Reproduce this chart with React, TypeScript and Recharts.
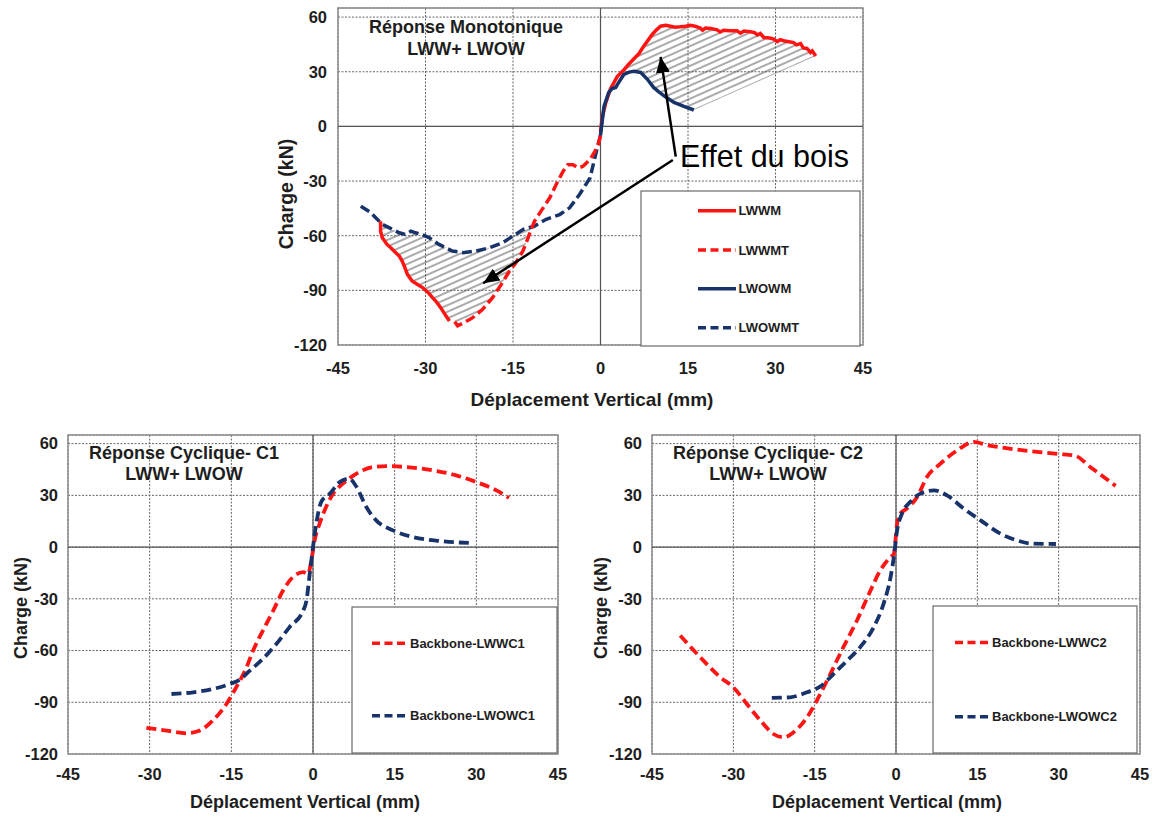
import React from "react";
import {
  Area,
  CartesianGrid,
  ComposedChart,
  Line,
  ReferenceArea,
  ReferenceLine,
  XAxis,
  YAxis,
} from "recharts";

type Pt = [number, number];

const X_TICKS = [-45, -30, -15, 0, 15, 30, 45];
const Y_TICKS = [-120, -90, -60, -30, 0, 30, 60];

// Réponse monotonique : déplacement (mm), charge (kN)
const LWWM: Pt[] = [
  [0, -3], [0.3, 5], [0.9, 13], [1.7, 20.5], [2.3, 24], [2.9, 27.5], [4, 31], [4.8, 34],
  [5.7, 37], [6.6, 40], [7.4, 44], [8.2, 47.5], [8.9, 50.6], [9.6, 53], [10.3, 55], [11.2, 55.5],
  [12, 55], [12.8, 54.5], [13.7, 54.7], [14.6, 55], [15.4, 55.5], [16.2, 55], [17.1, 54],
  [17.5, 52.8], [18, 54], [18.9, 53.7], [20, 53], [20.5, 51.8], [21.1, 52.8], [22.2, 52.5],
  [23.4, 52.5], [24, 51.2], [24.6, 52.4], [25.7, 52], [26.4, 51.5], [26.9, 50.2], [27.4, 51],
  [28, 48.8], [29, 48.5], [29.7, 47.9], [30.3, 46.5], [30.8, 47.6], [31.4, 47], [32.3, 46.5],
  [33.1, 46], [33.6, 44.8], [34.3, 45.5], [34.8, 43], [35.4, 42.8], [36, 40.6], [36.3, 41.5],
  [36.9, 38.7],
];
// trait plein rouge après le pic négatif
const LWWM_TAIL: Pt[] = [
  [-25.9, -106.8], [-26.5, -104], [-27.4, -99.5], [-28.2, -96], [-28.8, -94], [-29.6, -91],
  [-30.5, -88.5], [-31.5, -86.5], [-32.3, -84.9], [-33.1, -81.2], [-33.6, -77], [-34, -73.9],
  [-34.5, -71.2], [-35.4, -68.4], [-36, -66.5], [-36.6, -64.8], [-37.4, -61.1], [-37.7, -57.5],
  [-37.7, -52],
];
const LWWMT: Pt[] = [
  [0, -5], [-0.4, -10], [-1, -14], [-1.8, -18.2], [-3, -21.9], [-3.8, -22.8], [-4.7, -21],
  [-5.6, -21], [-6.4, -24.6], [-7.6, -31.9], [-8.7, -39.2], [-10.2, -46.5], [-11.3, -52],
  [-11.9, -56.6], [-12.4, -61.1], [-13.3, -68.4], [-14.5, -74.8], [-15.6, -79.4], [-17, -86.7],
  [-18.5, -94], [-20.2, -100.4], [-21.9, -105], [-23.4, -107.7], [-24.5, -109.5], [-25.1, -106.8],
];
const LWOWM: Pt[] = [
  [0, -5], [0.6, 11], [1.4, 18.6], [2, 20.8], [2.6, 21.4], [3.1, 24], [4, 28.5], [4.9, 29.8],
  [5.7, 30.2], [6.9, 29.6], [8, 26], [9.1, 21.4], [10, 19], [10.9, 16.8], [12.6, 13.2],
  [14.3, 11], [16, 9],
];
const LWOWMT: Pt[] = [
  [-41.1, -43.8], [-39.5, -47], [-37.4, -53.8], [-36, -56], [-34.5, -58.4], [-33.5, -59.3],
  [-32.5, -57.5], [-31.7, -58.4], [-30.5, -59.5], [-29.4, -61], [-27.7, -64.8], [-25.4, -68.4],
  [-23.6, -69.3], [-21.3, -68.4], [-19, -66.6], [-16.8, -63.9], [-15, -60.2], [-13.3, -56.6],
  [-11.3, -54.7], [-9.3, -51], [-7, -48.4], [-5.3, -44.7], [-3.6, -37.4], [-1.8, -28.3],
  [-0.7, -13.7], [0, -5],
];

// Réponse cyclique C1
const LWWC1: Pt[] = [
  [-30.6, -104.9], [-26.9, -106.4], [-23.3, -108], [-20.8, -106.4], [-18.4, -100.6],
  [-15.9, -91], [-14.1, -81.3], [-12.2, -69.7], [-11, -60], [-9.2, -48.4], [-7.3, -36.8],
  [-5.5, -25.2], [-3.7, -17.4], [-1.8, -14.5], [-0.9, -15.5], [-0.3, -7.7], [0.3, 3.9],
  [1.2, 13.5], [2.4, 23.2], [3.7, 31], [5.5, 36.8], [8, 42.6], [11, 46.4], [13.5, 47],
  [17.1, 46.4], [22, 44.5], [26.3, 41.6], [30, 37.7], [33.7, 32.9], [36, 28.5],
];
const LWOWC1: Pt[] = [
  [-26, -85.2], [-22, -84.2], [-18.4, -82.3], [-15.3, -79.4], [-13.5, -77], [-11.6, -71.6],
  [-9.2, -64.8], [-6.7, -56.1], [-4.3, -46.4], [-1.8, -36.8], [-1.2, -31], [-0.6, -15.5],
  [0, 0], [0.6, 13.5], [1.5, 26.1], [3.1, 31], [4.9, 37.7], [6.7, 39.7], [8, 34.8],
  [9.8, 23.2], [11.6, 15.5], [14.7, 9.7], [18.4, 5.8], [23.3, 3.5], [29.4, 2.3],
];

// Réponse cyclique C2
const LWWC2: Pt[] = [
  [-39.8, -51.3], [-36.1, -63.9], [-32.4, -75.5], [-30, -81.3], [-27.5, -91], [-25, -100.6],
  [-22.6, -108.4], [-20.7, -110.3], [-18.9, -107.4], [-16.4, -98.7], [-14.6, -89],
  [-12.1, -73.5], [-9.7, -58], [-7.2, -42.6], [-4.7, -25.2], [-2.9, -13.5], [-1, -5.8],
  [-0.4, -3.9], [0.2, 13.5], [0.8, 19.4], [2, 22.3], [3.9, 29], [5.7, 40.6], [8.2, 48.4],
  [11.3, 56.1], [14.3, 61], [17, 59], [20, 57.5], [25, 55.5], [30, 54], [33, 53], [36, 46],
  [40.5, 35.5],
];
const LWOWC2: Pt[] = [
  [-22.9, -87.5], [-19.5, -87.1], [-16.4, -84.2], [-13.7, -80.3], [-11.5, -73.5], [-9, -65.8],
  [-6.6, -58], [-4.1, -46.4], [-2.3, -32.9], [-1, -17.4], [-0.4, -5.8], [0.2, 9.7], [1.1, 19.4],
  [2.6, 26.1], [4.5, 31], [7, 32.9], [9.4, 30], [12.5, 22.3], [15.6, 15.5], [19.3, 7.7],
  [22.3, 3.9], [25, 2], [29.5, 1.8],
];

const RED = "#ff1414";
const NAVY = "#18336a";
const FONT = "'Liberation Sans', Arial, Helvetica, sans-serif";

const rows = (pts: Pt[]) => pts.map(([x, y]) => ({ x, y }));

function interp(pts: Pt[], x: number) {
  const s = [...pts].sort((a, b) => a[0] - b[0]);
  if (x <= s[0][0]) return s[0][1];
  for (let i = 1; i < s.length; i++) {
    if (x <= s[i][0]) {
      const [x0, y0] = s[i - 1];
      const [x1, y1] = s[i];
      if (x1 === x0) return y1;
      return y0 + ((y1 - y0) * (x - x0)) / (x1 - x0);
    }
  }
  return s[s.length - 1][1];
}

// zone hachurée entre deux courbes
function hatchBand(from: number, to: number, lo: (x: number) => number, hi: (x: number) => number, xs: number[]) {
  const grid = Array.from(new Set([from, to, ...xs.filter((x) => x > from && x < to)])).sort((a, b) => a - b);
  return grid.map((x) => {
    const a = lo(x);
    const b = hi(x);
    return { x, band: [Math.min(a, b), Math.max(a, b)] };
  });
}

const upperBand = (() => {
  const end = LWOWM[LWOWM.length - 1];
  const tip = LWWM[LWWM.length - 1];
  const lo = (x: number) =>
    x <= end[0] ? interp(LWOWM, x) : end[1] + ((tip[1] - end[1]) * (x - end[0])) / (tip[0] - end[0]);
  return hatchBand(3.4, tip[0], lo, (x) => interp(LWWM, x), [...LWWM, ...LWOWM].map((p) => p[0]));
})();

const lowerEdge = [...LWWM_TAIL, ...LWWMT];
const lowerBand = hatchBand(
  -37.4,
  -11.9,
  (x) => interp(lowerEdge, x),
  (x) => interp(LWOWMT, x),
  [...lowerEdge, ...LWOWMT].map((p) => p[0])
);

const tickStyle = { fill: "#1e1e1e", fontSize: 16.5, fontWeight: 700, fontFamily: FONT };

function frame(k: string, xMargin: number, yMargin: number, yWidth: number) {
  return [
    <CartesianGrid key={k + "g"} stroke="#666" strokeDasharray="2 1.5" />,
    <XAxis
      key={k + "x"}
      type="number"
      dataKey="x"
      domain={[-45, 45]}
      ticks={X_TICKS}
      interval={0}
      axisLine={false}
      tickLine={false}
      tickSize={0}
      tickMargin={xMargin}
      height={30}
      tick={tickStyle}
      allowDataOverflow
    />,
    <YAxis
      key={k + "y"}
      type="number"
      domain={[-120, 65]}
      ticks={Y_TICKS}
      interval={0}
      axisLine={false}
      tickLine={false}
      tickSize={0}
      tickMargin={yMargin}
      width={yWidth}
      tick={tickStyle}
      allowDataOverflow
    />,
    <ReferenceLine key={k + "h"} y={0} stroke="#555" strokeWidth={1.2} />,
    <ReferenceLine key={k + "v"} x={0} stroke="#555" strokeWidth={1.2} />,
    <ReferenceArea key={k + "b"} x1={-45} x2={45} y1={-120} y2={65} fill="none" stroke="#8d8d8d" strokeWidth={1.5} />,
  ];
}

const arrowShape = (p: any) => (
  <line x1={p.x1} y1={p.y1} x2={p.x2} y2={p.y2} stroke="#000" strokeWidth={2.5} markerEnd="url(#arrowHead)" />
);

function MonotonicChart() {
  return (
    <ComposedChart width={610} height={400} margin={{ top: 8, right: 17, bottom: 25, left: 0 }}>
      <defs>
        <pattern id="hatch" patternUnits="userSpaceOnUse" width={10} height={6} patternTransform="rotate(-24)">
          <line x1={0} y1={3} x2={10} y2={3} stroke="#555" strokeWidth={1} />
        </pattern>
        <marker id="arrowHead" viewBox="0 0 16 14" refX={16} refY={7} markerWidth={16} markerHeight={14} markerUnits="userSpaceOnUse" orient="auto">
          <path d="M0,0 L16,7 L0,14 z" fill="#000" />
        </marker>
      </defs>
      {frame("m", 17, 11, 68)}
      <Area data={upperBand} dataKey="band" type="linear" stroke="none" fill="url(#hatch)" fillOpacity={1} isAnimationActive={false} />
      <Area data={lowerBand} dataKey="band" type="linear" stroke="none" fill="url(#hatch)" fillOpacity={1} isAnimationActive={false} />
      <Line data={rows(LWOWMT)} dataKey="y" type="linear" stroke={NAVY} strokeWidth={3.5} strokeDasharray="10 4.5" dot={false} activeDot={false} isAnimationActive={false} />
      <Line data={rows(LWWMT)} dataKey="y" type="linear" stroke={RED} strokeWidth={3.5} strokeDasharray="10 4.5" dot={false} activeDot={false} isAnimationActive={false} />
      <Line data={rows(LWWM_TAIL)} dataKey="y" type="linear" stroke={RED} strokeWidth={3.5} dot={false} activeDot={false} isAnimationActive={false} />
      <Line data={rows(LWWM)} dataKey="y" type="linear" stroke={RED} strokeWidth={3.5} dot={false} activeDot={false} isAnimationActive={false} />
      <Line data={rows(LWOWM)} dataKey="y" type="linear" stroke={NAVY} strokeWidth={3.5} dot={false} activeDot={false} isAnimationActive={false} />
      <ReferenceLine segment={[{ x: 12.9, y: -16.6 }, { x: 10.3, y: 38.2 }]} shape={arrowShape} />
      <ReferenceLine segment={[{ x: 12.4, y: -18.4 }, { x: -20.1, y: -86.1 }]} shape={arrowShape} />
    </ComposedChart>
  );
}

function CyclicChart({ id, ww, wow, yWidth, right }: { id: string; ww: Pt[]; wow: Pt[]; yWidth: number; right: number }) {
  return (
    <ComposedChart width={575} height={380} margin={{ top: 15, right, bottom: 16, left: 0 }}>
      {frame(id, 14, 10, yWidth)}
      <Line data={rows(ww)} dataKey="y" type="monotone" stroke={RED} strokeWidth={3.8} strokeDasharray="10 5" dot={false} activeDot={false} isAnimationActive={false} />
      <Line data={rows(wow)} dataKey="y" type="monotone" stroke={NAVY} strokeWidth={3.8} strokeDasharray="10 5" dot={false} activeDot={false} isAnimationActive={false} />
    </ComposedChart>
  );
}

type Item = { label: string; color: string; dash?: string; cy: number };

function LegendBox({ x, y, w, h, lx1, lx2, tx, items, fs }: { x: number; y: number; w: number; h: number; lx1: number; lx2: number; tx: number; items: Item[]; fs: number }) {
  return (
    <g>
      <rect x={x} y={y} width={w} height={h} fill="#fff" stroke="#6a6a6a" strokeWidth={1.2} />
      {items.map((it) => (
        <g key={it.label}>
          <line x1={lx1} y1={it.cy} x2={lx2} y2={it.cy} stroke={it.color} strokeWidth={3.6} strokeDasharray={it.dash} />
          <text x={tx} y={it.cy + fs * 0.36} fontSize={fs} fontWeight={700} fill="#1e1e1e" fontFamily={FONT}>
            {it.label}
          </text>
        </g>
      ))}
    </g>
  );
}

function Overlay() {
  const bold = { fontFamily: FONT, fontWeight: 700, fill: "#1e1e1e" } as const;
  return (
    <svg width={1159} height={816} style={{ position: "absolute", left: 0, top: 0, pointerEvents: "none" }}>
      {/* titres */}
      <text x={466} y={33} fontSize={18} textAnchor="middle" {...bold}>Réponse Monotonique</text>
      <text x={466} y={55} fontSize={18} textAnchor="middle" {...bold}>LWW+ LWOW</text>
      <text x={184} y={458.5} fontSize={18} textAnchor="middle" {...bold}>Réponse Cyclique- C1</text>
      <text x={184} y={480} fontSize={18} textAnchor="middle" {...bold}>LWW+ LWOW</text>
      <text x={768} y={458.5} fontSize={18} textAnchor="middle" {...bold}>Réponse Cyclique- C2</text>
      <text x={768} y={480} fontSize={18} textAnchor="middle" {...bold}>LWW+ LWOW</text>

      {/* axes */}
      <text x={592} y={406} fontSize={19} textAnchor="middle" {...bold}>Déplacement Vertical (mm)</text>
      <text x={305} y={808} fontSize={18} textAnchor="middle" {...bold}>Déplacement Vertical (mm)</text>
      <text x={887} y={808} fontSize={18} textAnchor="middle" {...bold}>Déplacement Vertical (mm)</text>
      <text x={293} y={194} fontSize={19.5} textAnchor="middle" transform="rotate(-90 293 194)" {...bold}>Charge (kN)</text>
      <text x={27} y={608} fontSize={18} textAnchor="middle" transform="rotate(-90 27 608)" {...bold}>Charge (kN)</text>
      <text x={607} y={608} fontSize={18} textAnchor="middle" transform="rotate(-90 607 608)" {...bold}>Charge (kN)</text>

      <text x={680} y={167} fontSize={30.5} fontFamily={FONT} fill="#000">Effet du bois</text>

      <LegendBox
        x={641} y={191} w={219} h={155} lx1={698} lx2={736} tx={738.5} fs={13}
        items={[
          { label: "LWWM", color: RED, cy: 210.7 },
          { label: "LWWMT", color: RED, dash: "8 4.5", cy: 250 },
          { label: "LWOWM", color: NAVY, cy: 288.7 },
          { label: "LWOWMT", color: NAVY, dash: "8 4.5", cy: 327.7 },
        ]}
      />
      <LegendBox
        x={352} y={607} w={205} h={146} lx1={372} lx2={408} tx={410} fs={13}
        items={[
          { label: "Backbone-LWWC1", color: RED, dash: "8 4.5", cy: 643.3 },
          { label: "Backbone-LWOWC1", color: NAVY, dash: "8 4.5", cy: 715.7 },
        ]}
      />
      <LegendBox
        x={933} y={606} w={204} h={147} lx1={955} lx2={990} tx={992} fs={13}
        items={[
          { label: "Backbone-LWWC2", color: RED, dash: "8 4.5", cy: 642.5 },
          { label: "Backbone-LWOWC2", color: NAVY, dash: "8 4.5", cy: 716.7 },
        ]}
      />
    </svg>
  );
}

export default function App() {
  return (
    <div style={{ position: "absolute", left: 0, top: 0, width: 1159, height: 816, background: "#fff", fontFamily: FONT }}>
      <div style={{ position: "absolute", left: 270, top: 0 }}>
        <MonotonicChart />
      </div>
      <div style={{ position: "absolute", left: 0, top: 420 }}>
        <CyclicChart id="c1" ww={LWWC1} wow={LWOWC1} yWidth={68} right={17} />
      </div>
      <div style={{ position: "absolute", left: 580, top: 420 }}>
        <CyclicChart id="c2" ww={LWWC2} wow={LWOWC2} yWidth={72} right={15} />
      </div>
      <Overlay />
    </div>
  );
}
